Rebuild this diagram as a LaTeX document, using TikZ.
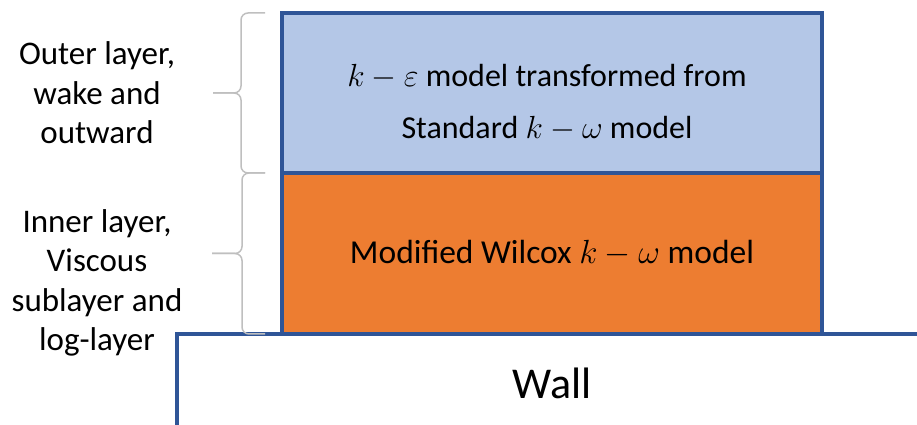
\RequirePackage{fix-cm}
\documentclass[tikz,border=0pt]{standalone}
\usepackage{fontspec}
\setmainfont{Carlito}
\usetikzlibrary{positioning}
\usepackage{xcolor}
\definecolor{wallblue}{HTML}{2F5597}
\definecolor{outerblue}{HTML}{B4C7E7}
\definecolor{innerorange}{HTML}{ED7D31}
\definecolor{bracegray}{HTML}{BFBFBF}

\begin{document}
\begin{tikzpicture}[x=1pt,y=1pt]
\tikzstyle{layer}=[draw=wallblue,line width=4pt,minimum width=540pt,outer sep=0pt,inner sep=0pt,align=center]
\tikzstyle{side}=[align=center,font=\fontsize{33}{39.5}\selectfont]
\tikzstyle{curly}=[draw=bracegray,line width=1.5pt,rounded corners=7pt]
\clip (0,0) rectangle (917,425);
\node[layer,fill=outerblue,minimum height=160pt] (outer) at (552,332) {};
\node[align=center,font=\fontsize{32}{52}\selectfont] (outertext) at ([xshift=-5pt,yshift=-10pt]outer.center) {$k-\varepsilon$ model transformed from\\Standard $k-\omega$ model};
\node[layer,fill=innerorange,minimum height=161pt,font=\fontsize{33.5}{40}\selectfont,below=0pt of outer] (inner) {Modified Wilcox $k-\omega$ model};
\node[layer,fill=white,minimum width=750pt,minimum height=98pt,font=\fontsize{44}{50}\selectfont,below=0pt of inner] (wall) {Wall};
% braces on the left
\draw[curly] ([xshift=-17pt]outer.north west) -| ([xshift=-41pt]outer.west) -- ([xshift=-69pt]outer.west);
\draw[curly] ([xshift=-69pt]outer.west) -- ([xshift=-41pt]outer.west) |- ([xshift=-17pt]outer.south west);
\draw[curly] ([xshift=-17pt]inner.north west) -| ([xshift=-40pt]inner.west) -- ([xshift=-70pt]inner.west);
\draw[curly] ([xshift=-70pt]inner.west) -- ([xshift=-40pt]inner.west) |- ([xshift=-17pt]inner.south west);
\node[side] (outerlabel) at (97,332) {Outer layer,\\wake and\\outward};
\node[side] (innerlabel) at (97,142) {Inner layer,\\Viscous\\sublayer and\\log-layer};
\end{tikzpicture}
\end{document}
